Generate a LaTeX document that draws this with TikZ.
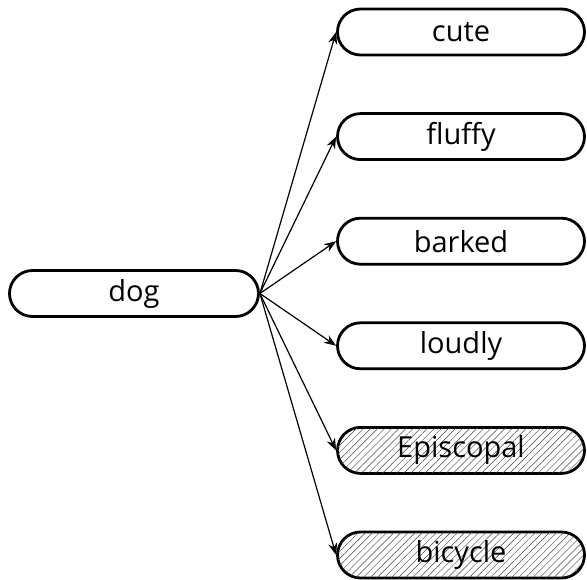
\documentclass[tikz,border=0pt]{standalone}
\usepackage{fontspec}
\setmainfont{Open Sans}
\usetikzlibrary{arrows.meta,patterns.meta}
\tikzset{
  word/.style={draw=black, line width=2.8pt, rounded corners=23pt, minimum height=46pt, inner sep=0pt, font=\fontsize{29}{32}\selectfont},
  src/.style={word, minimum width=249pt},
  tgt/.style={word, minimum width=247pt},
  odd/.style={tgt, postaction={pattern={Lines[angle=45,distance=5pt,line width=0.45pt]}, pattern color=black!75}},
  link/.style={line width=1.2pt, -{Stealth[length=12pt,width=9pt]}}
}
\begin{document}
\begin{tikzpicture}[x=1pt,y=-1pt]
\useasboundingbox (0,0) rectangle (587,580);
\node[src] (dog) at (134,293.5) {dog};
\node[tgt] (cute) at (461,32) {cute};
\node[tgt] (fluffy) at (461,136.6) {fluffy};
\node[tgt] (barked) at (461,241.2) {barked};
\node[tgt] (loudly) at (461,345.8) {loudly};
\node[odd] (episcopal) at (461,450.4) {Episcopal};
\node[odd] (bicycle) at (461,555) {bicycle};
\foreach \t in {cute,fluffy,barked,loudly,episcopal,bicycle}
  \draw[link] (dog.east) -- (\t.west);
\end{tikzpicture}
\end{document}
